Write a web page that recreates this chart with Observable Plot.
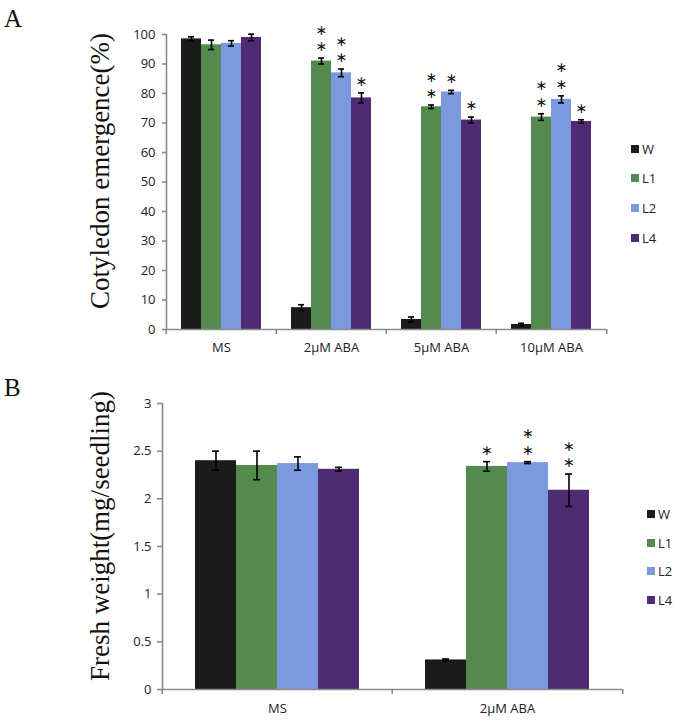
<!DOCTYPE html>
<html>
<head>
<meta charset="utf-8">
<script src="https://cdn.jsdelivr.net/npm/d3@7"></script>
<script src="https://cdn.jsdelivr.net/npm/@observablehq/plot@0.6"></script>
<style>
  body { margin: 0; background: #fff; }
  #wrap { position: relative; width: 676px; height: 720px; overflow: hidden; background: #fff; font-family: "Open Sans", sans-serif; }
  .panel { position: absolute; left: 0; }
  .letter { position: absolute; font-family: "Liberation Serif", serif; font-size: 25px; line-height: 1; color: #111; }
  .ylab { position: absolute; font-family: "Liberation Serif", serif; font-size: 27px; line-height: 1; color: #111;
          white-space: nowrap; transform: translate(-50%, -50%) rotate(-90deg); }
  .legend { position: absolute; font-family: "Open Sans", sans-serif; font-size: 13px; color: #222; }
  .legend .item { position: absolute; left: 0; display: flex; align-items: center; white-space: nowrap; }
  .legend .sw { width: 8px; height: 8px; margin-right: 3px; }
</style>
</head>
<body>
<div id="wrap"></div>
<script>
// ---------- data ----------
const series = ["W", "L1", "L2", "L4"];
const seriesColors = ["#1b1b1b", "#558a4f", "#7b99df", "#4f2b73"];

// Panel A: cotyledon emergence (%)
const catA = ["MS", "2μM ABA", "5μM ABA", "10μM ABA"];
const emergW  = [98.5, 7.4, 3.4, 1.7];
const emergL1 = [96.5, 91.0, 75.5, 72.0];
const emergL2 = [97.0, 87.0, 80.5, 78.0];
const emergL4 = [99.0, 78.5, 71.0, 70.5];
const emergErrW  = [0.7, 1.0, 0.85, 0.4];
const emergErrL1 = [1.6, 1.0, 0.6, 1.1];
const emergErrL2 = [0.9, 1.3, 0.55, 1.2];
const emergErrL4 = [1.1, 1.7, 1.0, 0.6];
const emergStarsW  = [0, 0, 0, 0];
const emergStarsL1 = [0, 2, 2, 2];
const emergStarsL2 = [0, 2, 1, 2];
const emergStarsL4 = [0, 1, 1, 1];
const yTicksA = [0, 10, 20, 30, 40, 50, 60, 70, 80, 90, 100];

// Panel B: fresh weight (mg/seedling)
const catB = ["MS", "2μM ABA"];
const weightW  = [2.40, 0.31];
const weightL1 = [2.35, 2.34];
const weightL2 = [2.37, 2.38];
const weightL4 = [2.31, 2.09];
const weightErrW  = [0.10, 0.01];
const weightErrL1 = [0.15, 0.05];
const weightErrL2 = [0.07, 0.01];
const weightErrL4 = [0.02, 0.17];
const weightStarsW  = [0, 0];
const weightStarsL1 = [0, 1];
const weightStarsL2 = [0, 2];
const weightStarsL4 = [0, 2];
const yTicksB = [0, 0.5, 1, 1.5, 2, 2.5, 3];

// ---------- build tables ----------
function rowsFor(cats, vals, errs, stars) {
  const out = [];
  cats.forEach((c, i) => series.forEach((s, j) => out.push({cat: c, s, v: vals[j][i], e: errs[j][i], n: stars[j][i]})));
  return out;
}
const rowsA = rowsFor(catA, [emergW, emergL1, emergL2, emergL4],
  [emergErrW, emergErrL1, emergErrL2, emergErrL4],
  [emergStarsW, emergStarsL1, emergStarsL2, emergStarsL4]);
const rowsB = rowsFor(catB, [weightW, weightL1, weightL2, weightL4],
  [weightErrW, weightErrL1, weightErrL2, weightErrL4],
  [weightStarsW, weightStarsL1, weightStarsL2, weightStarsL4]);

const W = 676;
function panel(o) {
  const step = (W - o.ml - o.mr) / o.cats.length;
  const axisGray = "#8a8a8a";
  return Plot.plot({
    width: W, height: o.h,
    marginLeft: o.ml, marginRight: o.mr, marginTop: o.mt, marginBottom: o.mb,
    style: {fontFamily: "Open Sans", fontSize: "13px", color: "#222", background: "transparent", overflow: "visible"},
    fx: {domain: o.cats, paddingInner: 0, paddingOuter: 0, label: null},
    x: {domain: series, paddingInner: 0, paddingOuter: o.xPad, axis: null},
    y: {domain: o.yDomain, label: null},
    color: {domain: series, range: seriesColors},
    marks: [
      Plot.barY(o.rows, {fx: "cat", x: "s", y: "v", fill: "s"}),
      Plot.ruleX(o.rows, {fx: "cat", x: "s", y1: d => d.v - d.e, y2: d => d.v + d.e, stroke: "#000", strokeWidth: 1.6}),
      Plot.tickY(o.rows, {fx: "cat", x: "s", y: d => d.v + d.e, insetLeft: o.capInset, insetRight: o.capInset, stroke: "#000", strokeWidth: 1.6}),
      Plot.tickY(o.rows, {fx: "cat", x: "s", y: d => d.v - d.e, insetLeft: o.capInset, insetRight: o.capInset, stroke: "#000", strokeWidth: 1.6}),
      Plot.text(o.rows.filter(d => d.n >= 1), {fx: "cat", x: "s", y: d => d.v + d.e,
        text: d => Array(d.n).fill("∗").join("\n"), lineAnchor: "bottom", lineHeight: 1.17, dy: -7,
        fontSize: 14, fontFamily: "DejaVu Sans", fill: "#111"}),
      Plot.frame({anchor: "left", facetAnchor: "left", stroke: axisGray, strokeWidth: 1.6}),
      Plot.ruleY([0], {stroke: axisGray, strokeWidth: 1.6}),
      Plot.axisY({ticks: o.yTicks, tickFormat: d => String(d), tickSize: o.tickSize, tickPadding: o.tickPadding,
                  stroke: axisGray, fill: "#222", strokeWidth: 1.6, fontSize: 13, label: null}),
      Plot.axisFx({anchor: "bottom", tickSize: 0, tickPadding: o.fxPadding, fill: "#222", fontSize: 13, label: null}),
      Plot.axisFx({anchor: "bottom", tickSize: 5, tickFormat: () => "", dx: -step / 2, stroke: axisGray, strokeWidth: 1.6, label: null}),
      Plot.axisFx({anchor: "bottom", ticks: [o.cats[o.cats.length - 1]], tickSize: 5, tickFormat: () => "", dx: step / 2, stroke: axisGray, strokeWidth: 1.6, label: null})
    ]
  });
}

const wrap = document.getElementById("wrap");

function addPanel(top, plot) {
  const d = document.createElement("div");
  d.className = "panel";
  d.style.top = top + "px";
  d.appendChild(plot);
  wrap.appendChild(d);
}

addPanel(0, panel({cats: catA, rows: rowsA, yDomain: [0, 100], yTicks: yTicksA,
  h: 360, ml: 165, mr: 69, mt: 34, mb: 31, xPad: 0.73, capInset: 7, tickSize: 4, tickPadding: 7, fxPadding: 13}));
addPanel(360, panel({cats: catB, rows: rowsB, yDomain: [0, 3], yTicks: yTicksB,
  h: 360, ml: 161, mr: 54, mt: 43, mb: 31, xPad: 0.76, capInset: 17, tickSize: 5, tickPadding: 6, fxPadding: 14}));

function addText(cls, txt, left, top) {
  const d = document.createElement("div");
  d.className = cls;
  d.textContent = txt;
  d.style.left = left + "px";
  d.style.top = top + "px";
  wrap.appendChild(d);
}
addText("letter", "A", 4, 6);
addText("letter", "B", 4, 375);
addText("ylab", "Cotyledon emergence(%)", 100, 171);
addText("ylab", "Fresh weight(mg/seedling)", 100, 536);

function addLegend(left, centers) {
  const lg = document.createElement("div");
  lg.className = "legend";
  lg.style.left = left + "px";
  lg.style.top = "0px";
  series.forEach((s, i) => {
    const it = document.createElement("div");
    it.className = "item";
    it.style.top = (centers[i] - 10) + "px";
    it.style.height = "20px";
    const sw = document.createElement("span");
    sw.className = "sw";
    sw.style.background = seriesColors[i];
    const t = document.createElement("span");
    t.textContent = s;
    it.appendChild(sw);
    it.appendChild(t);
    lg.appendChild(it);
  });
  wrap.appendChild(lg);
}
addLegend(631, [149, 178, 208, 238]);
addLegend(647, [514, 543, 571, 600]);
</script>
</body>
</html>
